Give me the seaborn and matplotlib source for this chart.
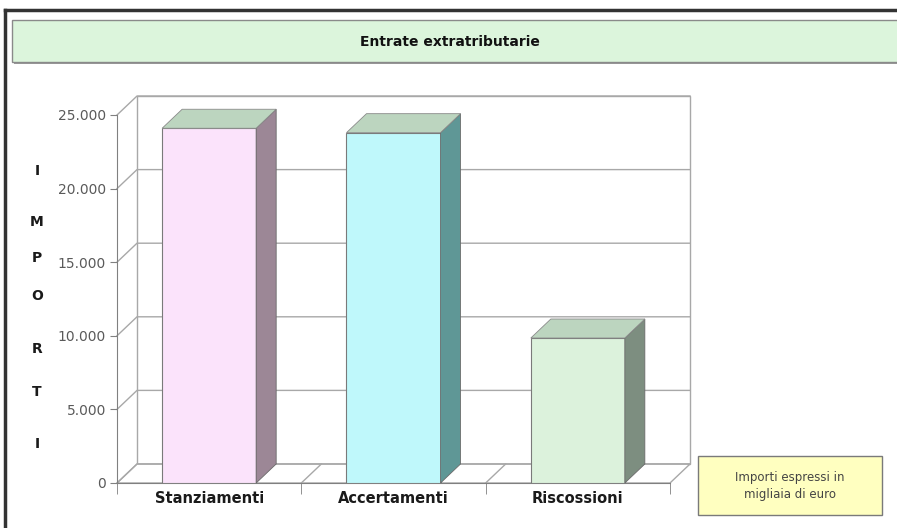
import pandas as pd
import matplotlib.pyplot as plt
import seaborn as sns
from matplotlib.patches import Polygon, Rectangle
from matplotlib.lines import Line2D

# Data
voci = ['Stanziamenti', 'Accertamenti', 'Riscossioni']
importi = [24100, 23800, 9850]
front_colors = ['#fbe3fb', '#bff8fb', '#dcf2dc']
side_colors = ['#9c8796', '#5f9796', '#7d8e80']
top_color = '#bcd5bf'
yticks = [0, 5000, 10000, 15000, 20000, 25000]
ylabel_letters = list('IMPORTI')

df = pd.DataFrame({'Voce': voci, 'Importo': importi})

W, H = 897, 528
fig = plt.figure(figsize=(W / 100, H / 100), dpi=100)
fig.patch.set_facecolor('white')

# front plane of the plot: x 117..670 px, y 115..483 px
ax = fig.add_axes([117 / W, 1 - 483 / H, 553 / W, 368 / H])
ax.patch.set_visible(False)
sns.barplot(data=df, x='Voce', y='Importo', hue='Voce', palette=front_colors,
            saturation=1, width=0.51, edgecolor='#7a7a7a', linewidth=0.8,
            legend=False, ax=ax, zorder=3)
ax.set_xlim(-0.5, 2.5)
ax.set_ylim(0, 25000)

# depth of the fake 3D box, in data units
dx = 20 / (553 / 3)
dy = 19 / (368 / 25000)
grid_c = '#a8a8a8'

# back wall
ax.add_patch(Polygon([(-0.5 + dx, dy), (2.5 + dx, dy), (2.5 + dx, 25000 + dy),
                      (-0.5 + dx, 25000 + dy)], closed=True, fc='white',
                     ec=grid_c, lw=1, clip_on=False, zorder=0))
# floor
ax.add_patch(Polygon([(-0.5, 0), (2.5, 0), (2.5 + dx, dy), (-0.5 + dx, dy)],
                     closed=True, fc='white', ec=grid_c, lw=1, clip_on=False, zorder=1))
for xb in [0.5, 1.5]:
    ax.add_line(Line2D([xb, xb + dx], [0, dy], color=grid_c, lw=1, clip_on=False, zorder=1))
# gridlines on side and back wall
for v in yticks:
    ax.add_line(Line2D([-0.5, -0.5 + dx, 2.5 + dx], [v, v + dy, v + dy],
                       color=grid_c, lw=1, clip_on=False, zorder=1))

# 3D sides and tops of the bars
for p, sc in zip(ax.patches[:len(voci)], side_colors):
    x0, w, h = p.get_x(), p.get_width(), p.get_height()
    ax.add_patch(Polygon([(x0 + w, 0), (x0 + w + dx, dy), (x0 + w + dx, h + dy), (x0 + w, h)],
                         closed=True, fc=sc, ec='#6a6a6a', lw=0.6, clip_on=False, zorder=3))
    ax.add_patch(Polygon([(x0, h), (x0 + dx, h + dy), (x0 + w + dx, h + dy), (x0 + w, h)],
                         closed=True, fc=top_color, ec='#8a8a8a', lw=0.6, clip_on=False, zorder=3))

# axes styling
for s in ['top', 'right']:
    ax.spines[s].set_visible(False)
for s in ['left', 'bottom']:
    ax.spines[s].set_color('#808080')
ax.set_yticks(yticks)
ax.set_yticklabels([f'{v:,}'.replace(',', '.') for v in yticks],
                   fontsize=10, color='#5a5a5a', family='DejaVu Sans')
ax.tick_params(axis='y', length=5, color='#808080', pad=3)
ax.set_xticks(range(len(voci)))
ax.set_xticklabels(voci, fontsize=10.5, fontweight='bold', color='#1a1a1a')
ax.set_xticks([-0.5, 0.5, 1.5, 2.5], minor=True)
ax.tick_params(axis='x', which='major', length=0, pad=6)
ax.tick_params(axis='x', which='minor', length=8, color='#808080')
ax.set_xlabel('')
ax.set_ylabel('')

# vertical letters of the y label
for letter, py in zip(ylabel_letters, [171, 222, 258, 296, 349, 392, 444]):
    fig.text(37 / W, 1 - py / H, letter, fontsize=10, fontweight='bold',
             ha='center', va='center', color='#1a1a1a')

# outer frame
fig.add_artist(Line2D([5 / W, 5 / W], [1 - 10 / H, 0], color='#333333', lw=2.5))
fig.add_artist(Line2D([5 / W, 1], [1 - 10 / H, 1 - 10 / H], color='#333333', lw=2.5))

# title box
fig.add_artist(Rectangle((14 / W, 1 - 64 / H), 900 / W, 44 / H, transform=fig.transFigure,
                         fc='#9a9a9a', ec='none'))
fig.add_artist(Rectangle((12 / W, 1 - 62 / H), 900 / W, 42 / H, transform=fig.transFigure,
                         fc='#dcf5dc', ec='#8a8a8a', lw=1))
fig.text(450 / W, 1 - 42 / H, 'Entrate extratributarie', fontsize=10, fontweight='bold',
         ha='center', va='center', color='#111111')

# note box
fig.add_artist(Rectangle((698 / W, 1 - 515 / H), 184 / W, 59 / H, transform=fig.transFigure,
                         fc='#ffffc0', ec='#7a7a7a', lw=1))
fig.text(790 / W, 1 - 486 / H, 'Importi espressi in\nmigliaia di euro', fontsize=8.5,
         ha='center', va='center', color='#444444', linespacing=1.4)

fig.savefig('out.png', dpi=100)
